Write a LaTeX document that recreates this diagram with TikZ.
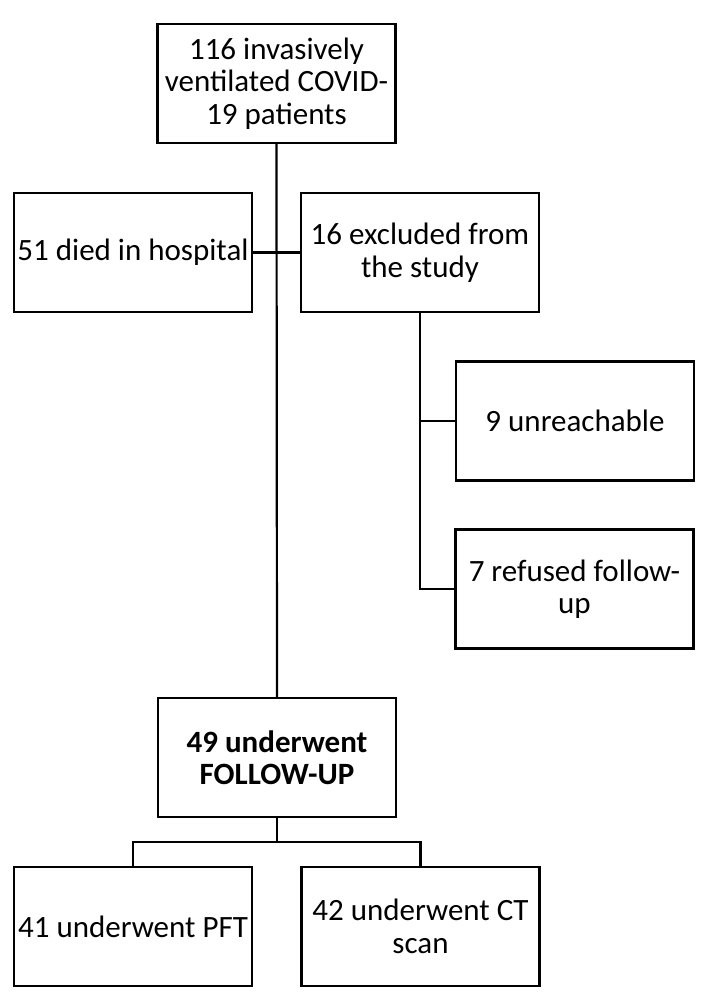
\documentclass[tikz,border=0pt]{standalone}
\usepackage{fontspec}
\setmainfont{Carlito}
\begin{document}
\begin{tikzpicture}[x=1pt,y=-1pt,
  box/.style={draw,line width=2.2pt,minimum width=238pt,minimum height=119pt,inner sep=0pt,align=center,font=\fontsize{31}{32.5}\selectfont},
  link/.style={line width=2.2pt}]
\useasboundingbox (0,0) rectangle (709,993);
\node[box] (top) at (276.5,83.5) {116 invasively\\ventilated COVID-\\19 patients};
\node[box] (died) at (133,252.5) {51 died in hospital};
\node[box] (excl) at (420,252.5) {16 excluded from\\the study};
\node[box] (unr) at (575,421) {9 unreachable};
\node[box] (ref) at (574.5,589) {7 refused follow-\\up};
\node[box] (fol) at (277,757.5) {\textbf{49 underwent}\\\textbf{FOLLOW-UP}};
\node[box] (pft) at (133,926.5) {41 underwent PFT};
\node[box] (ct) at (420.5,926.5) {42 underwent CT\\scan};
\draw[link] (top.south) -- (fol.north);
\draw[link] (died.east) -- (excl.west);
\draw[link] (excl.south) |- (ref.west);
\draw[link] (excl.south |- unr.west) -- (unr.west);
\coordinate (split) at (277,842);
\draw[link] (fol.south) -- (split);
\draw[link] (pft.north) |- (split) -| (ct.north);
\end{tikzpicture}
\end{document}
